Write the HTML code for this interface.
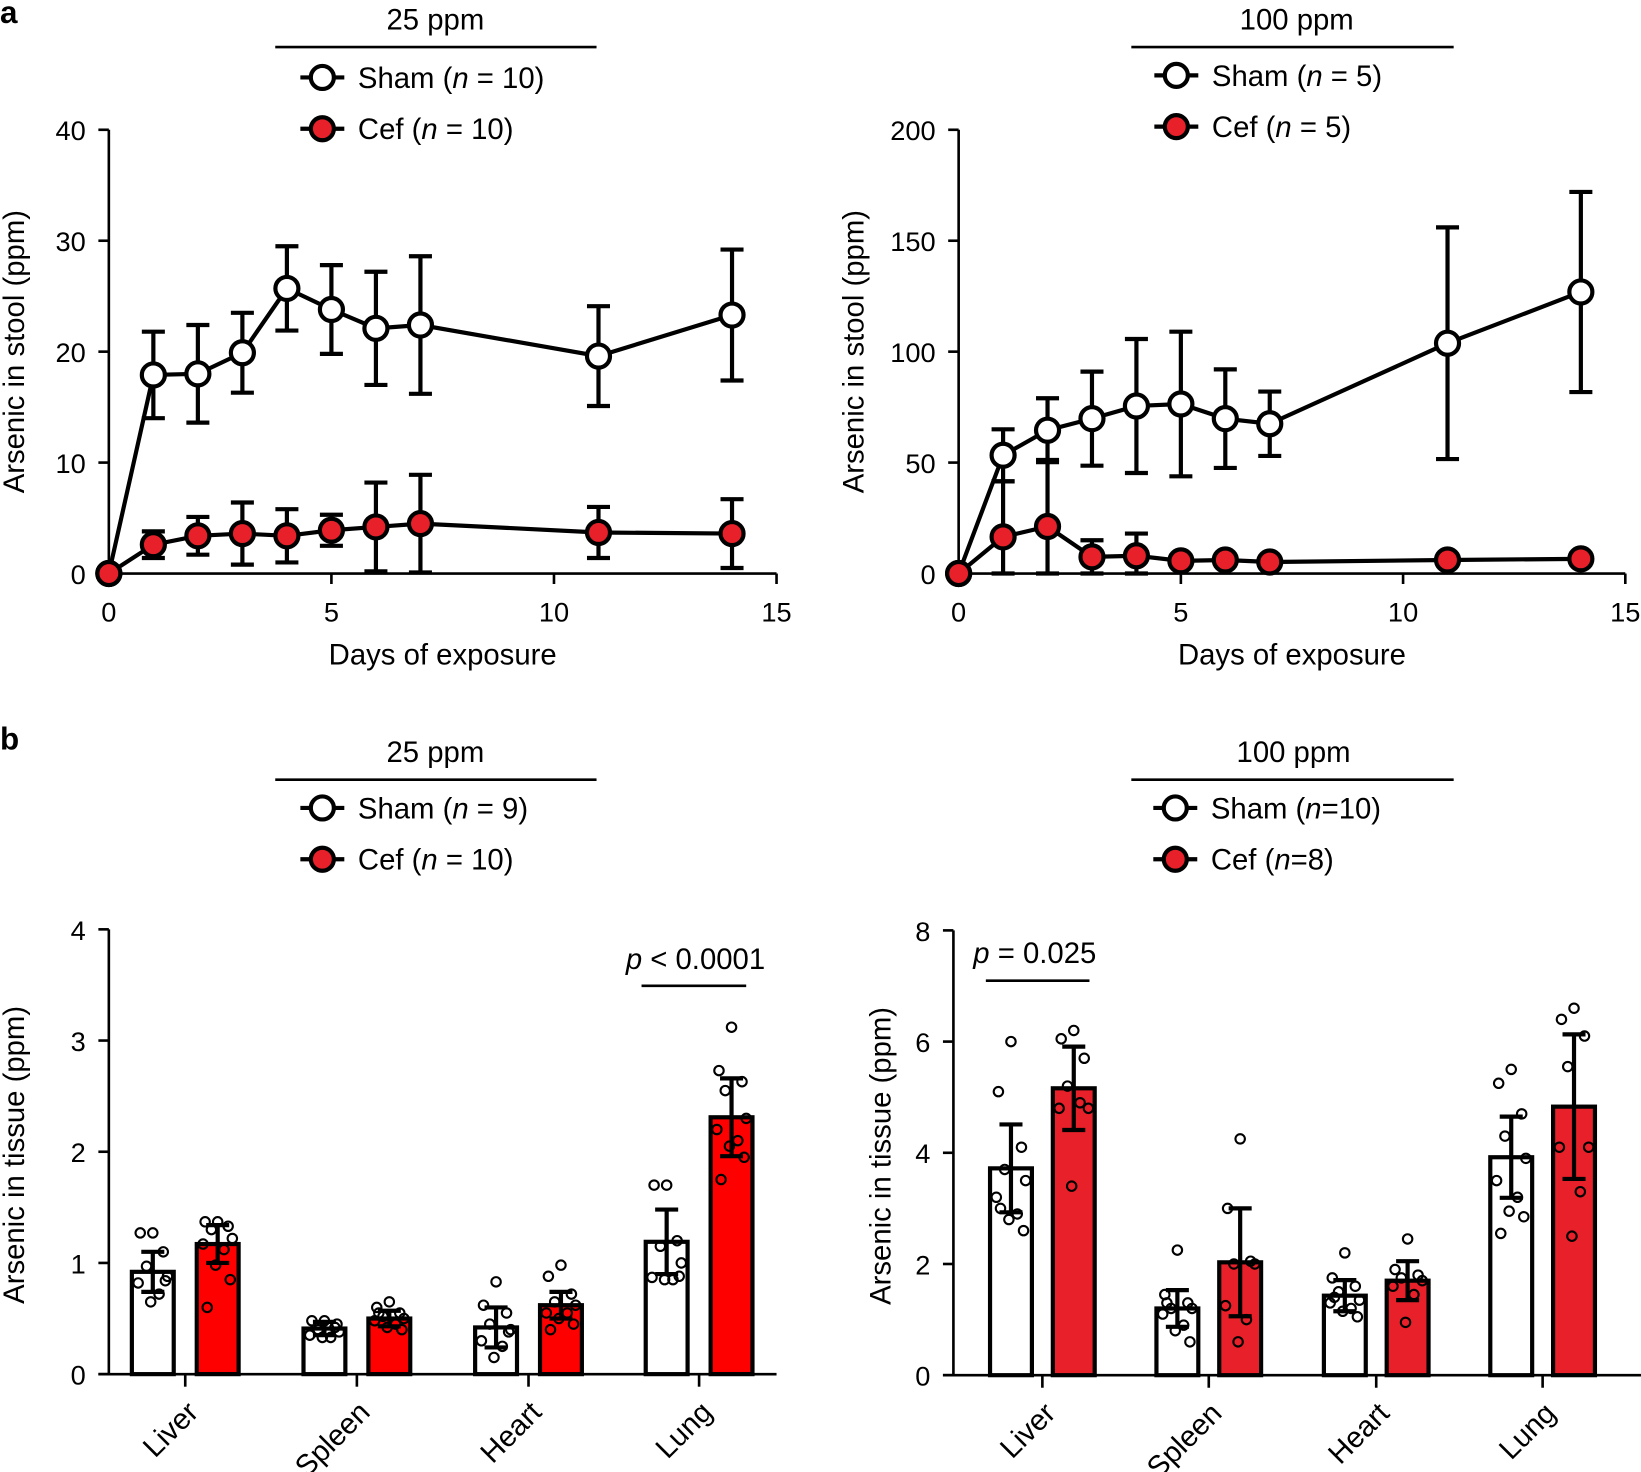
<!DOCTYPE html>
<html><head><meta charset="utf-8">
<style>
html,body{margin:0;padding:0;background:#fff;}
svg{display:block;font-family:"Liberation Sans",Arial,sans-serif;}
</style></head>
<body>
<svg id="fig" width="1641" height="1472" viewBox="0 0 1568 1406.5" xmlns="http://www.w3.org/2000/svg">
<text x="0" y="22" font-size="30" font-weight="bold">a</text>
<text x="0" y="716" font-size="30" font-weight="bold">b</text>
</svg>
<script>
// ---- Panel a (25 ppm) data ----
const daysA = [0,1,2,3,4,5,6,7,11,14];
const shamA25 = [0,17.9,18.0,19.9,25.7,23.8,22.1,22.4,19.6,23.3];
const shamA25Err = [0,3.9,4.4,3.6,3.8,4.0,5.1,6.2,4.5,5.9];
const cefA25 = [0,2.6,3.4,3.6,3.4,3.9,4.2,4.5,3.7,3.6];
const cefA25Err = [0,1.2,1.7,2.8,2.4,1.4,4.0,4.4,2.3,3.1];
const yTicksA25 = [0,10,20,30,40];
// ---- Panel a (100 ppm) data ----
const shamA100 = [0,53.3,64.6,69.8,75.5,76.4,69.8,67.5,103.8,126.9];
const shamA100Err = [0,11.7,14.4,21.2,30.2,32.6,22.2,14.5,52.2,45.1];
const cefA100 = [0,16.5,21.2,7.5,8.0,5.7,6.1,5.2,6.1,6.6];
const cefA100Err = [0,25,30,7.5,10,2,2,2,2,2];
const yTicksA100 = [0,50,100,150,200];
const xTicksA = [0,5,10,15];
// ---- Panel b data ----
const tissues = ["Liver","Spleen","Heart","Lung"];
const shamB25 = [0.92,0.41,0.42,1.19];
const shamB25Err = [0.18,0.06,0.18,0.29];
const cefB25 = [1.17,0.50,0.62,2.31];
const cefB25Err = [0.17,0.07,0.12,0.35];
const shamB25Pts = [[1.27,1.27,1.10,0.97,0.88,0.82,0.72,0.65,0.84],[0.48,0.48,0.42,0.40,0.38,0.35,0.33,0.33,0.45],[0.83,0.62,0.55,0.45,0.40,0.30,0.25,0.15,0.38],[1.70,1.70,1.20,1.15,1.00,0.87,0.85,0.85,0.88]];
const cefB25Pts = [[1.37,1.37,1.33,1.30,1.22,1.17,1.12,0.98,0.85,0.60],[0.65,0.60,0.55,0.52,0.50,0.48,0.45,0.42,0.40,0.55],[0.98,0.88,0.72,0.65,0.62,0.55,0.55,0.50,0.45,0.40],[3.12,2.73,2.63,2.55,2.30,2.20,2.10,2.05,1.95,1.75]];
const yTicksB25 = [0,1,2,3,4];
const shamB100 = [3.72,1.20,1.43,3.92];
const shamB100Err = [0.79,0.33,0.28,0.73];
const cefB100 = [5.16,2.03,1.70,4.83];
const cefB100Err = [0.75,0.97,0.35,1.30];
const shamB100Pts = [[6.0,5.1,4.1,3.7,3.5,3.2,2.9,2.8,2.6,3.0],[2.25,1.45,1.3,1.2,1.2,1.1,0.9,0.8,0.6,1.3],[2.2,1.75,1.6,1.5,1.35,1.3,1.2,1.15,1.05,1.4],[5.5,5.25,4.7,4.3,3.9,3.5,3.2,2.95,2.85,2.55]];
const cefB100Pts = [[6.2,6.05,5.7,5.2,4.8,4.8,4.9,3.4],[4.25,3.0,2.05,2.0,2.0,1.25,1.0,0.6],[2.45,1.9,1.8,1.75,1.7,1.6,1.45,0.95],[6.6,6.4,6.1,5.55,4.1,4.1,3.3,2.5]];
const yTicksB100 = [0,2,4,6,8];

const svg = document.getElementById('fig');
const NS = 'http://www.w3.org/2000/svg';
function mk(tag, attrs, parent){
  const e = document.createElementNS(NS, tag);
  for (const k in attrs) e.setAttribute(k, attrs[k]);
  (parent||svg).appendChild(e);
  return e;
}
function txt(x,y,s,size,anchor,parent){
  const t = mk('text',{x:x,y:y,'font-size':size,'text-anchor':anchor||'start'},parent);
  t.innerHTML = s;
  return t;
}

function legend(cx, lineY, x0, x1, title, mx, my1, my2, l1, l2, red){
  const g = mk('g',{});
  
  
  const t = txt(cx, lineY-17, title, 28, 'middle', g);
  
  
  mk('line',{x1:x0,x2:x1,y1:lineY,y2:lineY,stroke:'#000','stroke-width':2.5},g);
  [[my1,'#fff',l1,'legend-sham'],[my2,red,l2,'legend-cef']].forEach(([y,f,l,n])=>{
    const e = mk('g',{},g);
    
    
    mk('line',{x1:mx-21,x2:mx+21,y1:y,y2:y,stroke:'#000','stroke-width':4},e);
    mk('circle',{cx:mx,cy:y,r:11,fill:f,stroke:'#000','stroke-width':4},e);
    txt(mx+34, y+10, l, 28, 'start', e);
  });
}

function lineChart(ox, oy, w, h, xmax, ymax, yTicks, sham, shamE, cef, cefE, name, red, ytx){
  const g = mk('g',{});
  
  
  const X = d => ox + d/xmax*w;
  const Y = v => oy - v/ymax*h;
  mk('line',{x1:ox,x2:ox,y1:oy,y2:oy-h,stroke:'#000','stroke-width':2.5},g);
  mk('line',{x1:ox,x2:ox+w,y1:oy,y2:oy,stroke:'#000','stroke-width':2.5},g);
  yTicks.forEach(v=>{
    mk('line',{x1:ox-10,x2:ox,y1:Y(v),y2:Y(v),stroke:'#000','stroke-width':2.5},g);
    const t = txt(ox-22, Y(v)+10, v, 26, 'end', g);
    
    
  });
  xTicksA.forEach(v=>{
    mk('line',{x1:X(v),x2:X(v),y1:oy,y2:oy+10,stroke:'#000','stroke-width':2.5},g);
    const t = txt(X(v), oy+46, v, 26, 'middle', g);
    
    
  });
  const xt = txt(ox+w/2, oy+87, 'Days of exposure', 28, 'middle', g);
  
  
  const yt = txt(0,0,'Arsenic in stool (ppm)',28,'middle',g);
  yt.setAttribute('transform', `translate(${ytx},${oy-h/2}) rotate(-90)`);
  
  
  [[sham,shamE,'#fff','sham-series'],[cef,cefE,red,'cef-series']].forEach(([vals,errs,fill,n])=>{
    const s = mk('g',{},g);
    
    
    vals.forEach((v,i)=>{
      if (errs[i] > 0){
        const x = X(daysA[i]), y1 = Y(v+errs[i]), y2 = Y(Math.max(0,v-errs[i]));
        mk('line',{x1:x,x2:x,y1:y1,y2:y2,stroke:'#000','stroke-width':4},s);
        mk('line',{x1:x-11,x2:x+11,y1:y1,y2:y1,stroke:'#000','stroke-width':4},s);
        mk('line',{x1:x-11,x2:x+11,y1:y2,y2:y2,stroke:'#000','stroke-width':4},s);
      }
    });
    mk('polyline',{points:vals.map((v,i)=>X(daysA[i])+','+Y(v)).join(' '),fill:'none',stroke:'#000','stroke-width':4},s);
    vals.forEach((v,i)=>{
      const c = mk('circle',{cx:X(daysA[i]),cy:Y(v),r:11,fill:fill,stroke:'#000','stroke-width':4},s);
      
      
    });
  });
}

const jit = [0,-12,10,-6,14,-14,6,-2,12,-10];
function barChart(ox, oy, w, h, ymax, yTicks, centers, sham, shamE, cef, cefE, shamP, cefP, name, red, bw, gap, ytx){
  const g = mk('g',{});
  
  
  const Y = v => oy - v/ymax*h;
  yTicks.forEach(v=>{
    mk('line',{x1:ox-10,x2:ox,y1:Y(v),y2:Y(v),stroke:'#000','stroke-width':2.5},g);
    const t = txt(ox-22, Y(v)+10, v, 26, 'end', g);
    
    
  });
  const yt = txt(0,0,'Arsenic in tissue (ppm)',28,'middle',g);
  yt.setAttribute('transform', `translate(${ytx},${oy-h/2+3}) rotate(-90)`);
  
  
  centers.forEach((c,i)=>{
    [[c-gap/2-bw/2,sham[i],shamE[i],'#fff',shamP[i],'bar-sham-'],[c+gap/2+bw/2,cef[i],cefE[i],red,cefP[i],'bar-cef-']].forEach(([bx,v,e,f,pts,n])=>{
      const r = mk('rect',{x:bx-bw/2,y:Y(v),width:bw,height:oy-Y(v),fill:f,stroke:'#000','stroke-width':4},g);
      
      
      pts.forEach((p,k)=>{
        const d = mk('circle',{cx:bx+jit[k%jit.length],cy:Y(p),r:4.5,fill:'none',stroke:'#000','stroke-width':2},g);
        
        
      });
      mk('line',{x1:bx,x2:bx,y1:Y(v+e),y2:Y(v-e),stroke:'#000','stroke-width':4},g);
      mk('line',{x1:bx-11,x2:bx+11,y1:Y(v+e),y2:Y(v+e),stroke:'#000','stroke-width':4},g);
      mk('line',{x1:bx-11,x2:bx+11,y1:Y(v-e),y2:Y(v-e),stroke:'#000','stroke-width':4},g);
    });
    mk('line',{x1:c,x2:c,y1:oy,y2:oy+12,stroke:'#000','stroke-width':2.5},g);
    const t = txt(0,0,tissues[i],28,'end',g);
    t.setAttribute('transform', `translate(${c+14},${oy+38}) rotate(-45)`);
    
    
  });
  mk('line',{x1:ox,x2:ox,y1:oy,y2:oy-h,stroke:'#000','stroke-width':2.5},g);
  mk('line',{x1:ox-10,x2:ox+w,y1:oy,y2:oy,stroke:'#000','stroke-width':2.5},g);
}

const RED = '#e8202a';
legend(416, 45, 263, 570, '25 ppm', 308, 74, 123, 'Sham (<tspan font-style="italic">n</tspan> = 10)', 'Cef (<tspan font-style="italic">n</tspan> = 10)', RED);
legend(1239, 45, 1081, 1389, '100 ppm', 1124, 72, 121, 'Sham (<tspan font-style="italic">n</tspan> = 5)', 'Cef (<tspan font-style="italic">n</tspan> = 5)', RED);
legend(416, 745, 263, 570, '25 ppm', 308, 772, 821, 'Sham (<tspan font-style="italic">n</tspan> = 9)', 'Cef (<tspan font-style="italic">n</tspan> = 10)', RED);
legend(1236, 745, 1081, 1389, '100 ppm', 1123, 772, 821, 'Sham (<tspan font-style="italic">n</tspan>=10)', 'Cef (<tspan font-style="italic">n</tspan>=8)', RED);

lineChart(104, 548, 638, 424, 15, 40, yTicksA25, shamA25, shamA25Err, cefA25, cefA25Err, 'stool-chart-25ppm', RED, 23);
lineChart(916, 548, 637, 424, 15, 200, yTicksA100, shamA100, shamA100Err, cefA100, cefA100Err, 'stool-chart-100ppm', RED, 825);
barChart(104, 1313, 638, 425, 4, yTicksB25, [177,341,505,668], shamB25, shamB25Err, cefB25, cefB25Err, shamB25Pts, cefB25Pts, 'tissue-chart-25ppm', '#ff0000', 40, 22, 23);
barChart(911, 1314, 657, 425, 8, yTicksB100, [996,1155,1315,1474], shamB100, shamB100Err, cefB100, cefB100Err, shamB100Pts, cefB100Pts, 'tissue-chart-100ppm', RED, 40, 20, 851);

const p1 = txt(598, 926, '<tspan font-style="italic">p</tspan> &lt; 0.0001', 28, 'start');


mk('line',{x1:613,x2:713,y1:942,y2:942,stroke:'#000','stroke-width':2.5});
const p2 = txt(930, 920, '<tspan font-style="italic">p</tspan> = 0.025', 28, 'start');


mk('line',{x1:942,x2:1041,y1:937,y2:937,stroke:'#000','stroke-width':2.5});
</script>
</body></html>
